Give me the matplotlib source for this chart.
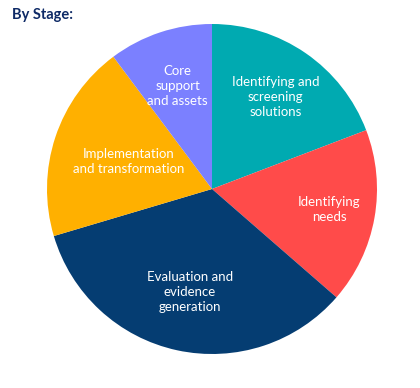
import matplotlib.pyplot as plt
import numpy as np

plt.rcParams['font.family'] = ['Lato', 'DejaVu Sans']

labels = [
    'Identifying and\nscreening\nsolutions',
    'Identifying\nneeds',
    'Evaluation and\nevidence\ngeneration',
    'Implementation\nand transformation',
    'Core\nsupport\nand assets',
]
shares = [19.2, 17.2, 34.0, 19.4, 10.2]
colors = ['#00AAB1', '#FF4B4A', '#053D72', '#FFB000', '#7B80FF']
# how far out each label sits, as a fraction of the radius
label_r = [0.68, 0.72, 0.64, 0.53, 0.66]

fig = plt.figure(figsize=(4.2, 3.88), dpi=100)
fig.text(12 / 420, 1 - 15 / 388, 'By Stage:', fontsize=10.5, fontweight='bold',
         color='#0E2A66', ha='left', va='center')

ax = fig.add_axes([(212 - 165) / 420, (388 - 189 - 165) / 388, 330 / 420, 330 / 388])
wedges, _ = ax.pie(shares, colors=colors, startangle=90, counterclock=False,
                   wedgeprops=dict(linewidth=0))

for w, lab, r in zip(wedges, labels, label_r):
    mid = np.deg2rad((w.theta1 + w.theta2) / 2)
    ax.text(r * np.cos(mid), r * np.sin(mid), lab, ha='center', va='center',
            color='white', fontsize=9.5, linespacing=1.3)

ax.set_xlim(-1, 1)
ax.set_ylim(-1, 1)
ax.set_aspect('auto')
ax.axis('off')

plt.savefig('out.png', dpi=100)
plt.close()
